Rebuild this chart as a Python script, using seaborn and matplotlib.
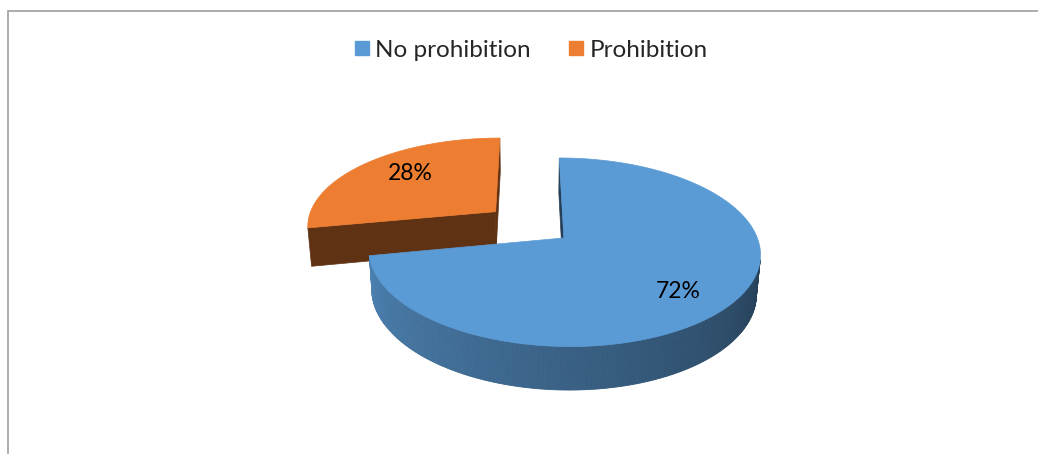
import numpy as np
import matplotlib
matplotlib.use("Agg")
import matplotlib.pyplot as plt
import seaborn as sns
from matplotlib.patches import Polygon
from matplotlib.lines import Line2D
from matplotlib.colors import to_rgb

# ---------------- data ----------------
categories = ["No prohibition", "Prohibition"]
shares = [72, 28]
value_labels = ["72%", "28%"]
top_colors = ["#5B9BD5", "#ED7D31"]

# ---------------- style ----------------
sns.set_theme(style="white")
plt.rcParams['font.family'] = ['Lato', 'DejaVu Sans']

W, H = 1038, 454
fig = plt.figure(figsize=(W / 100, H / 100), dpi=100)
ax = fig.add_axes([0, 0, 1, 1])
ax.set_xlim(0, W)
ax.set_ylim(H, 0)
ax.axis('off')

# ---------------- 3D projection settings ----------------
elev = np.radians(27.0)
Dcam = 6.0
focal = 1164.0
xfac = 0.975
cx0, cy0 = 529.0, 224.5
thick = 0.225
explode = 0.234
label_r = [0.72, 0.65]
label_shift = [(-4, 8), (0, -5)]
start_angle = 90.0

cam = np.array([0.0, -Dcam * np.cos(elev), Dcam * np.sin(elev)])


def proj(X, Y, Z):
    X = np.asarray(X, float); Y = np.asarray(Y, float); Z = np.asarray(Z, float)
    yc = Y * np.sin(elev) + Z * np.cos(elev)
    d = Y * np.cos(elev) - Z * np.sin(elev)
    s = focal / (Dcam + d)
    return np.column_stack([np.atleast_1d(cx0 + X * s * xfac), np.atleast_1d(cy0 - yc * s)])


def shade(color, k):
    r, g, b = to_rgb(color)
    return (r * k, g * k, b * k)


def side_factor(t):
    tt = np.degrees(t) % 360
    frac = np.clip((tt - 180) / 180, 0, 1)
    return 0.86 - 0.48 * frac


total = float(sum(shares))
theta = start_angle
slices = []
for name, v, col, lab, kr, sh in zip(categories, shares, top_colors, value_labels, label_r, label_shift):
    t1 = theta
    t2 = theta - 360.0 * v / total
    theta = t2
    mid = np.radians((t1 + t2) / 2)
    c = np.array([explode * np.cos(mid), explode * np.sin(mid)])
    slices.append(dict(t1=np.radians(t1), t2=np.radians(t2), mid=mid, c=c, col=col,
                       lab=lab, kr=kr, sh=sh))

# draw back slice (Prohibition) first, then the front one
order = sorted(range(len(slices)), key=lambda i: -slices[i]['c'][1])
for i in order:
    s = slices[i]
    cxw, cyw = s['c']
    col = s['col']
    rel = cam[:2] - s['c']
    # radial faces
    for a, sgn in ((s['t1'], 1), (s['t2'], -1)):
        n = np.array([np.cos(a + sgn * np.pi / 2), np.sin(a + sgn * np.pi / 2)])
        if n @ rel > 0:
            X = [cxw, cxw + np.cos(a), cxw + np.cos(a), cxw]
            Y = [cyw, cyw + np.sin(a), cyw + np.sin(a), cyw]
            Z = [0, 0, -thick, -thick]
            ax.add_patch(Polygon(proj(X, Y, Z), closed=True, fc=shade(col, 0.40),
                                 ec=shade(col, 0.40), lw=0.5))
    # curved outer side
    ts = np.linspace(s['t1'], s['t2'], 400)
    for ta, tb in zip(ts[:-1], ts[1:]):
        tm = (ta + tb) / 2
        n = np.array([np.cos(tm), np.sin(tm)])
        if n @ (rel - n) > 0:
            X = [cxw + np.cos(ta), cxw + np.cos(tb), cxw + np.cos(tb), cxw + np.cos(ta)]
            Y = [cyw + np.sin(ta), cyw + np.sin(tb), cyw + np.sin(tb), cyw + np.sin(ta)]
            Z = [0, 0, -thick, -thick]
            fc = shade(col, side_factor(tm))
            ax.add_patch(Polygon(proj(X, Y, Z), closed=True, fc=fc, ec=fc, lw=0.6))
    # top face
    ta = np.linspace(s['t1'], s['t2'], 300)
    X = np.concatenate([[cxw], cxw + np.cos(ta)])
    Y = np.concatenate([[cyw], cyw + np.sin(ta)])
    ax.add_patch(Polygon(proj(X, Y, np.zeros_like(X)), closed=True, fc=col, ec=col, lw=0.5))

# value labels
for s in slices:
    p = proj(s['c'][0] + s['kr'] * np.cos(s['mid']), s['c'][1] + s['kr'] * np.sin(s['mid']), 0)[0]
    ax.text(p[0] + s['sh'][0], p[1] + s['sh'][1], s['lab'], ha='center', va='center',
            fontsize=16.5, color='black')

# legend
handles = [Line2D([], [], marker='s', linestyle='', markersize=9.5,
                  markerfacecolor=c, markeredgecolor=c) for c in top_colors]
ax.legend(handles, categories, loc='center', bbox_to_anchor=(530 / W, 1 - 50 / H),
          ncol=2, frameon=False, fontsize=17.5, handlelength=0.8, handletextpad=0.15,
          columnspacing=1.47, borderaxespad=0)

# chart frame (top and left edges)
fig.add_artist(Line2D([7.5 / W, 1.0], [1 - 10.5 / H, 1 - 10.5 / H], color='#A6A6A6', lw=1.3))
fig.add_artist(Line2D([7.5 / W, 7.5 / W], [1 - 10.5 / H, 0], color='#A6A6A6', lw=1.3))

fig.savefig("out.png", dpi=100, facecolor='white')
